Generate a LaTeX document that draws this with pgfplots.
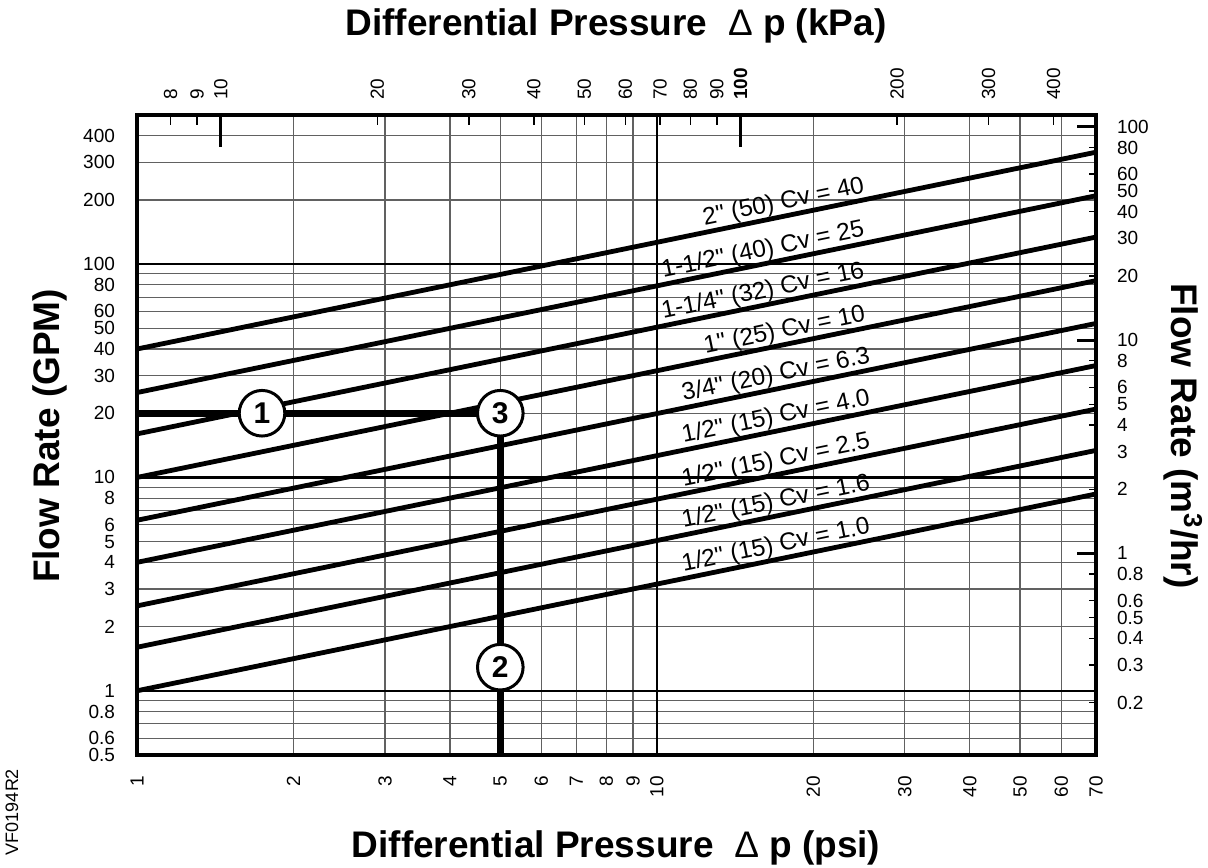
\documentclass[border=0pt]{standalone}
\usepackage{pgfplots}
\pgfplotsset{compat=1.18}
\usepackage{fontspec}
\setmainfont{Liberation Sans}
% no TeX ligature mapping here, so " stays a straight quote
\newfontfamily\plainsans{Liberation Sans}

\newcommand{\tl}{\fontsize{9.5}{10}\selectfont}
\newcommand{\cvlabel}{\plainsans\fontsize{12.2}{13}\selectfont}
\newcommand{\ttl}{\fontsize{18.5}{20}\selectfont\bfseries}
\newcommand{\circfont}{\fontsize{15}{15}\selectfont\bfseries}

\tikzset{cvtext/.style={sloped, anchor=base east, yshift=3.5pt, font=\cvlabel}}

\begin{document}
\begin{tikzpicture}
\path[use as bounding box] (-68.5pt,-56pt) rectangle (535.5pt,377.5pt);

\pgfplotsset{
  chartbox/.style={scale only axis, width=479.5pt, height=320pt,
    at={(0,0)}, anchor=south west},
  cvline/.style={black, line width=2.4pt},
}

% main axis: psi vs GPM
\begin{axis}[chartbox,
  xmode=log, ymode=log,
  xmin=1, xmax=70, ymin=0.5, ymax=500,
  axis line style={line width=1.6pt},
  xtick={1,2,3,4,5,6,7,8,9,20,30,40,50,60,70},
  xticklabels={1,2,3,4,5,6,7,8,9,20,30,40,50,60,70},
  extra x ticks={10}, extra x tick labels={10},
  ytick={0.5,0.6,0.8,2,3,4,5,6,8,20,30,40,50,60,80,200,300,400},
  yticklabels={0.5,0.6,0.8,2,3,4,5,6,8,20,30,40,50,60,80,200,300,400},
  minor ytick={0.7,0.9,7,9,70,90},
  extra y ticks={1,10,100}, extra y tick labels={1,10,100},
  extra tick style={grid=major, major grid style={black, line width=1.2pt}},
  grid=both,
  major grid style={black!62, line width=0.6pt},
  minor grid style={black!62, line width=0.6pt},
  major tick length=0pt, minor tick length=0pt,
  ticklabel style={font=\tl},
  xticklabel style={rotate=90, anchor=east},
  xticklabel shift=7pt,
  yticklabel shift=7.5pt,
]
% Cv lines
\addplot[cvline] coordinates {(1,40) (70,334.7)}
  node[pos=0.770, cvtext] {2" (50) Cv = 40};
\addplot[cvline] coordinates {(1,25) (70,209.2)}
  node[pos=0.770, cvtext] {1-1/2" (40) Cv = 25};
\addplot[cvline] coordinates {(1,16) (70,133.9)}
  node[pos=0.770, cvtext] {1-1/4" (32) Cv = 16};
\addplot[cvline] coordinates {(1,10) (70,83.67)}
  node[pos=0.771, cvtext] {1" (25) Cv = 10};
\addplot[cvline] coordinates {(1,6.3) (70,52.71)}
  node[pos=0.776, cvtext] {3/4" (20) Cv = 6.3};
\addplot[cvline] coordinates {(1,4.0) (70,33.47)}
  node[pos=0.776, cvtext] {1/2" (15) Cv = 4.0};
\addplot[cvline] coordinates {(1,2.5) (70,20.92)}
  node[pos=0.776, cvtext] {1/2" (15) Cv = 2.5};
\addplot[cvline] coordinates {(1,1.6) (70,13.39)}
  node[pos=0.776, cvtext] {1/2" (15) Cv = 1.6};
\addplot[cvline] coordinates {(1,1.0) (70,8.367)}
  node[pos=0.776, cvtext] {1/2" (15) Cv = 1.0};

% worked example path
\addplot[black, line width=3.6pt, line join=miter] coordinates {(1,20) (5,20) (5,0.5)};

% numbered circles
\addplot[only marks, mark=*, mark size=11.4pt,
  mark options={fill=white, draw=black, line width=1.5pt}]
  coordinates {(1.74,20) (5,20) (5,1.29)};
\addplot[only marks, mark=text, text mark={1}, text mark as node=true,
  text mark style={font=\circfont, anchor=center}] coordinates {(1.74,20)};
\addplot[only marks, mark=text, text mark={3}, text mark as node=true,
  text mark style={font=\circfont, anchor=center}] coordinates {(5,20)};
\addplot[only marks, mark=text, text mark={2}, text mark as node=true,
  text mark style={font=\circfont, anchor=center}] coordinates {(5,1.29)};
\end{axis}

% top axis: kPa
\begin{axis}[chartbox,
  xmode=log, xmin=6.895, xmax=482.65, ymin=0, ymax=1,
  axis x line*=top, axis y line=none,
  axis line style={line width=1.6pt},
  xtick={8,9,20,30,40,50,60,70,80,90,200,300,400},
  xticklabels={8,9,20,30,40,50,60,70,80,90,200,300,400},
  extra x ticks={10,100}, extra x tick labels={10,\textbf{100}},
  extra x tick style={major tick length=16pt, major tick style={black, line width=1.5pt}},
  tick align=inside, major tick length=5pt,
  major tick style={black, line width=0.7pt},
  ticklabel style={font=\tl},
  xticklabel style={rotate=90, anchor=west},
  xticklabel shift=4pt,
  ytick=\empty,
]
\end{axis}

% right axis: m3/hr
\begin{axis}[chartbox,
  ymode=log, ymin=0.11356, ymax=113.56, xmin=0, xmax=1,
  axis y line*=right, axis x line=none,
  axis line style={line width=1.6pt},
  ytick={0.2,0.3,0.4,0.5,0.6,0.8,2,3,4,5,6,8,20,30,40,50,60,80},
  yticklabels={0.2,0.3,0.4,0.5,0.6,0.8,2,3,4,5,6,8,20,30,40,50,60,80},
  extra y ticks={1,10,100}, extra y tick labels={1,10,100},
  extra y tick style={major tick length=9.5pt, major tick style={black, line width=1.5pt}},
  tick align=inside, major tick length=3.5pt,
  major tick style={black, line width=0.7pt},
  ticklabel style={font=\tl},
  yticklabel style={anchor=west},
  yticklabel shift=7pt,
  xtick=\empty,
]
\end{axis}

\node[font=\ttl, anchor=base] at (239.5pt,359.5pt) {Differential Pressure\ \ {\mdseries Δ} p (kPa)};
\node[font=\ttl, anchor=base] at (239.5pt,-51pt) {Differential Pressure\ \ {\mdseries Δ} p (psi)};
\node[font=\ttl, rotate=90] at (-43.5pt,159.5pt) {Flow Rate (GPM)};
\node[font=\ttl, rotate=-90] at (523pt,159.5pt) {Flow Rate (m\textsuperscript{3}/hr)};
\node[font=\fontsize{9}{10}\selectfont, rotate=90] at (-62.5pt,-28.5pt) {VF0194R2};
\end{tikzpicture}
\end{document}
